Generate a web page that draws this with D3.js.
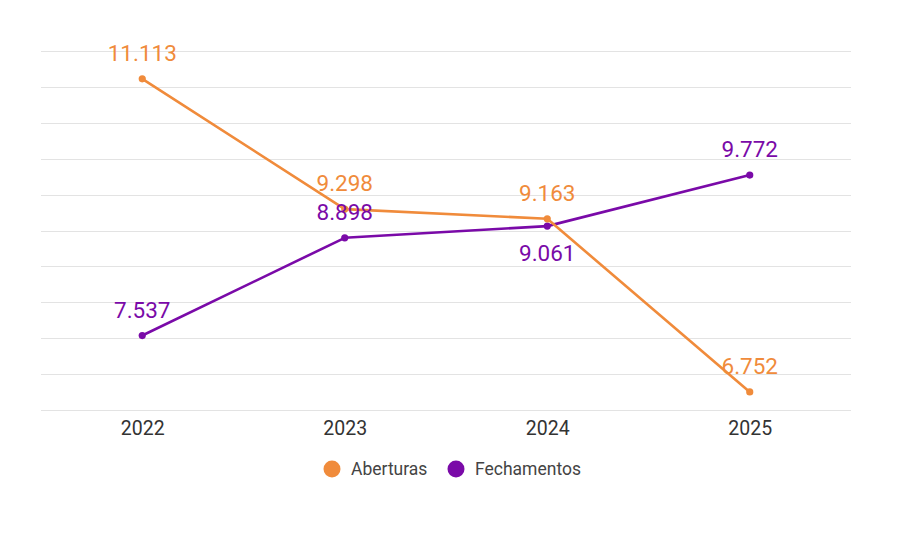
<!DOCTYPE html>
<html>
<head>
<meta charset="utf-8">
<script src="https://cdn.jsdelivr.net/npm/d3@7"></script>
<style>
  body { margin: 0; background: #fff; font-family: Roboto, sans-serif; }
</style>
</head>
<body>
<div id="chart"></div>
<script>
var years = ["2022", "2023", "2024", "2025"];
var aberturas = [11113, 9298, 9163, 6752];
var fechamentos = [7537, 8898, 9061, 9772];
var yTicks = [6500, 7000, 7500, 8000, 8500, 9000, 9500, 10000, 10500, 11000, 11500];
// label above (-1) or below (1) the point
var abLabelSide = [-1, -1, -1, -1];
var feLabelSide = [-1, -1, 1, -1];

var width = 907, height = 545;
var plotLeft = 41, plotRight = 851, plotTop = 51, plotBottom = 410;

var fmt = function(v) { return d3.format(",")(v).replace(/,/g, "."); };

var svg = d3.select("#chart").append("svg")
    .attr("width", width)
    .attr("height", height);

var x = d3.scalePoint()
    .domain(years)
    .range([plotLeft, plotRight])
    .padding(0.5);

var y = d3.scaleLinear()
    .domain([6500, 11500])
    .range([plotBottom, plotTop]);

// gridlines
svg.append("g")
    .selectAll("line")
    .data(yTicks)
    .enter().append("line")
    .attr("x1", plotLeft)
    .attr("x2", plotRight)
    .attr("y1", function(d) { return Math.round(y(d)) + 0.5; })
    .attr("y2", function(d) { return Math.round(y(d)) + 0.5; })
    .attr("stroke", "#e3e3e3")
    .attr("stroke-width", 1);

// x axis labels
var xAxis = d3.axisBottom(x).tickSize(0).tickPadding(0);
var xg = svg.append("g")
    .attr("transform", "translate(0," + plotBottom + ")")
    .call(xAxis);
xg.select(".domain").remove();
xg.selectAll("text")
    .attr("dy", "24.5px")
    .style("font-family", "Roboto, sans-serif")
    .style("font-size", "19.5px")
    .style("fill", "#333");

var series = [
    { name: "Fechamentos", values: fechamentos, color: "#7a0aa8", side: feLabelSide },
    { name: "Aberturas", values: aberturas, color: "#f08b3b", side: abLabelSide }
];

var line = d3.line()
    .x(function(d, i) { return x(years[i]); })
    .y(function(d) { return y(d); });

series.forEach(function(s) {
    svg.append("path")
        .datum(s.values)
        .attr("d", line)
        .attr("fill", "none")
        .attr("stroke", s.color)
        .attr("stroke-width", 2.6)
        .attr("stroke-linejoin", "round");

    svg.append("g")
        .selectAll("circle")
        .data(s.values)
        .enter().append("circle")
        .attr("cx", function(d, i) { return x(years[i]); })
        .attr("cy", function(d) { return y(d); })
        .attr("r", 3.6)
        .attr("fill", s.color);
});

// value labels on top
series.forEach(function(s) {
    svg.append("g")
        .selectAll("text")
        .data(s.values)
        .enter().append("text")
        .attr("x", function(d, i) { return x(years[i]); })
        .attr("y", function(d, i) { return y(d) + (s.side[i] < 0 ? -18 : 35); })
        .attr("text-anchor", "middle")
        .style("font-family", "Roboto, sans-serif")
        .style("font-size", "22.5px")
        .style("fill", s.color)
        .text(function(d) { return fmt(d); });
});

// legend
var legendItems = [
    { name: "Aberturas", color: "#f08b3b", cx: 332 },
    { name: "Fechamentos", color: "#7a0aa8", cx: 456 }
];
var legend = svg.append("g");
legendItems.forEach(function(l) {
    legend.append("circle")
        .attr("cx", l.cx)
        .attr("cy", 469)
        .attr("r", 8.5)
        .attr("fill", l.color);
    legend.append("text")
        .attr("x", l.cx + 19)
        .attr("y", 475)
        .style("font-family", "Roboto, sans-serif")
        .style("font-size", "17.5px")
        .style("fill", "#444")
        .text(l.name);
});
</script>
</body>
</html>
